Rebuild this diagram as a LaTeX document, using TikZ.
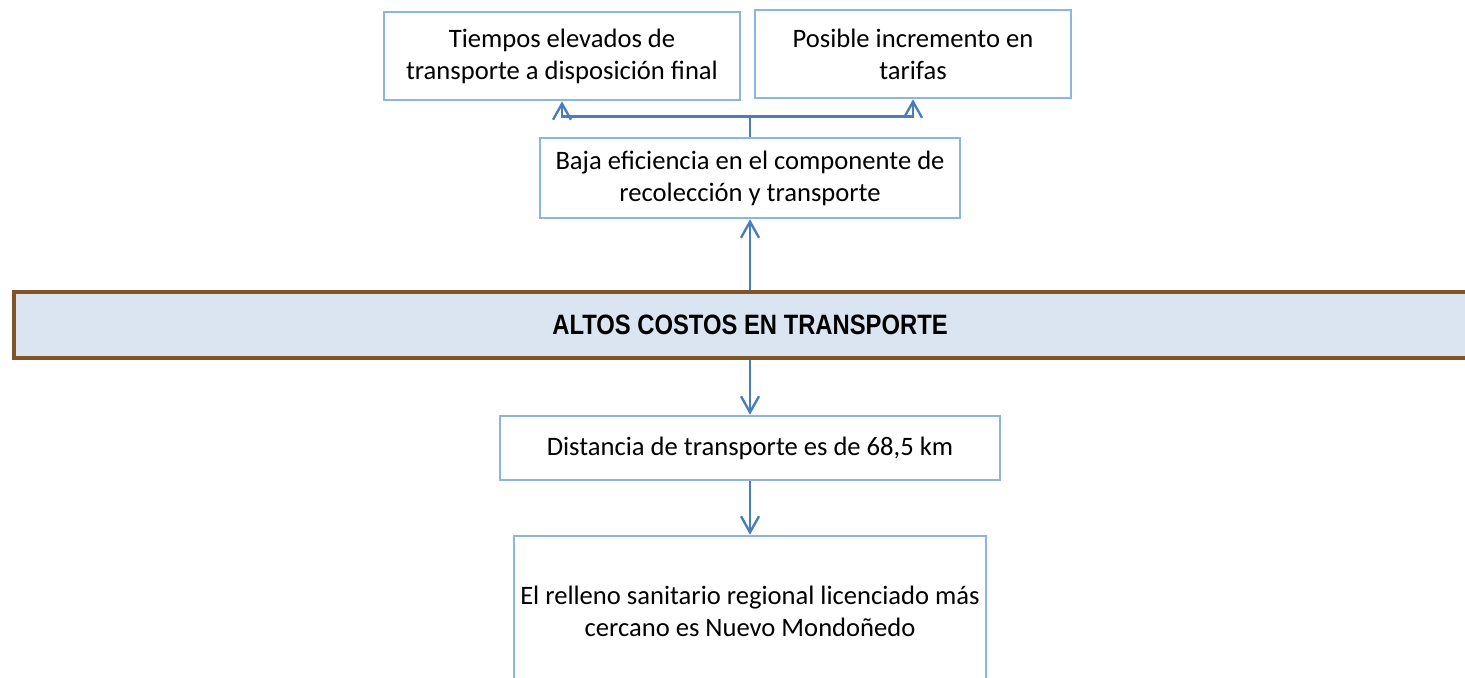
\documentclass[tikz,border=0pt]{standalone}
\usepackage{fontspec}
\setmainfont{Carlito}
\newfontfamily\arialfont[FakeStretch=0.85]{Liberation Sans}
\usepackage{tikz}
\usetikzlibrary{arrows.meta, positioning}

\definecolor{borde}{RGB}{141,180,226}
\definecolor{linea}{RGB}{74,126,187}
\definecolor{franja}{RGB}{219,229,241}
\definecolor{cafe}{RGB}{128,84,40}

\begin{document}
\begin{tikzpicture}[x=0.5pt, y=-0.5pt, >={Straight Barb[length=8pt, width=9pt]}]
        % estilos
        \tikzstyle{caja} = [draw=borde, line width=1.3pt, rectangle, align=center, inner sep=0pt, font=\fontsize{13.3}{16}\selectfont]
        \tikzstyle{problema} = [draw=cafe, line width=1.6pt, fill=franja, rectangle, inner sep=0pt, font=\arialfont\bfseries\fontsize{14}{16}\selectfont]
        \tikzstyle{flecha} = [draw=linea, line width=1.2pt]

        \useasboundingbox (0,0) rectangle (1465,678);
        \clip (0,0) rectangle (1465,678);

        % efectos
        \node[caja, minimum width=178pt, minimum height=44pt] (tiempos) at (562,56) {Tiempos elevados de\\transporte a disposición final};
        \node[caja, minimum width=158pt, minimum height=44pt] (tarifas) at (913,54) {Posible incremento en\\tarifas};
        \node[caja, minimum width=210pt, minimum height=40pt] (baja) at (750,178) {Baja eficiencia en el componente de\\recolección y transporte};

        % problema central
        \node[problema, minimum width=736pt, minimum height=33pt] (central) at (750,325) {ALTOS COSTOS EN TRANSPORTE};

        % causas
        \node[caja, minimum width=250pt, minimum height=32pt] (distancia) at (750,448) {Distancia de transporte es de 68,5 km};
        \node[caja, minimum width=236pt, minimum height=75pt] (relleno) at (750,611) {El relleno sanitario regional licenciado más\\cercano es Nuevo Mondoñedo};
        \coordinate[above=10pt of baja.north] (rama);

        % conexiones
        \draw[flecha] (baja.north) -- (rama);
        \draw[flecha, ->] (rama) -| (tiempos.south);
        \draw[flecha, ->] (rama) -| (tarifas.south);
        \draw[flecha, ->] (central.north) -- (baja.south);
        \draw[flecha, ->] (central.south) -- (distancia.north);
        \draw[flecha, ->] (distancia.south) -- (relleno.north);
    \end{tikzpicture}
\end{document}
